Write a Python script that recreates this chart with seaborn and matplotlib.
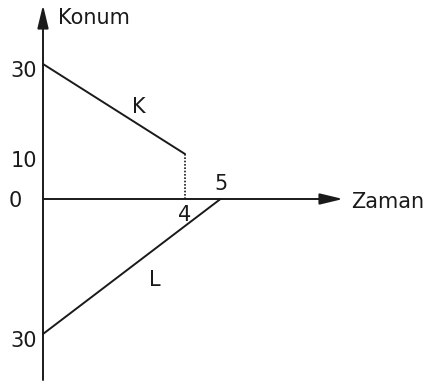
import pandas as pd
import matplotlib
matplotlib.use("Agg")
import matplotlib.pyplot as plt
import seaborn as sns

# Data
time_k = [0, 4]
pos_k = [30, 10]
time_l = [0, 5]
pos_l = [-30, 0]
y_tick_values = [30, 10, 0, -30]
y_tick_labels = ["30", "10", "0", "30"]
x_tick_values = [4, 5]
x_tick_labels = ["4", "5"]

k_data = pd.DataFrame({"Zaman": time_k, "Konum": pos_k})
l_data = pd.DataFrame({"Zaman": time_l, "Konum": pos_l})

sns.set_theme(style="white")
plt.rcParams["font.family"] = ["DejaVu Sans"]

W, H = 424, 384
X0, Y0 = 43, 199          # pixel position of the origin
SX, SY = 35.5, 4.5        # pixels per unit

def px(x, y):
    # pixel -> data coordinates
    return (x - X0) / SX, (Y0 - y) / SY

fig = plt.figure(figsize=(W / 100, H / 100), dpi=100)
ax = fig.add_axes([0, 0, 1, 1])

# axes with arrowheads
arrow = dict(arrowstyle="-|>,head_length=1.0,head_width=0.24", color="#1a1a1a", lw=1.4,
             mutation_scale=14, shrinkA=0, shrinkB=0)
ax.annotate("", xy=px(X0, 5), xytext=px(X0, 380), arrowprops=arrow)
ax.annotate("", xy=px(343, Y0), xytext=px(X0, Y0), arrowprops=arrow)

# K and L lines
sns.lineplot(data=k_data, x="Zaman", y="Konum", color="#1a1a1a", lw=1.4, ax=ax)
sns.lineplot(data=l_data, x="Zaman", y="Konum", color="#1a1a1a", lw=1.4, ax=ax)
ax.plot([time_k[-1], time_k[-1]], [0, pos_k[-1]], color="#1a1a1a", lw=1.2, ls=(0, (1, 1)))
ax.set_xlim(px(0, 0)[0], px(W, 0)[0])
ax.set_ylim(px(0, H)[1], px(0, 0)[1])
ax.axis("off")

fs = 15
# y tick labels
for v, lab in zip(y_tick_values, y_tick_labels):
    if v == 0:
        ax.text(px(15, 0)[0], v - 0.4, lab, ha="center", va="center", fontsize=fs, color="#1a1a1a")
    else:
        ax.text(px(37, 0)[0], v - 1.5, lab, ha="right", va="center", fontsize=fs, color="#1a1a1a")

# x tick labels
ax.text(x_tick_values[0], px(0, 215)[1], x_tick_labels[0], ha="center", va="center", fontsize=fs, color="#1a1a1a")
ax.text(x_tick_values[1], px(0, 184)[1], x_tick_labels[1], ha="center", va="center", fontsize=fs, color="#1a1a1a")

# axis titles and line names
ax.text(*px(58, 18), "Konum", ha="left", va="center", fontsize=fs, color="#1a1a1a")
ax.text(*px(351, 202), "Zaman", ha="left", va="center", fontsize=fs, color="#1a1a1a")
ax.text(*px(139, 107), "K", ha="center", va="center", fontsize=fs, color="#1a1a1a")
ax.text(*px(155, 280), "L", ha="center", va="center", fontsize=fs, color="#1a1a1a")

plt.savefig("out.png", dpi=100)
